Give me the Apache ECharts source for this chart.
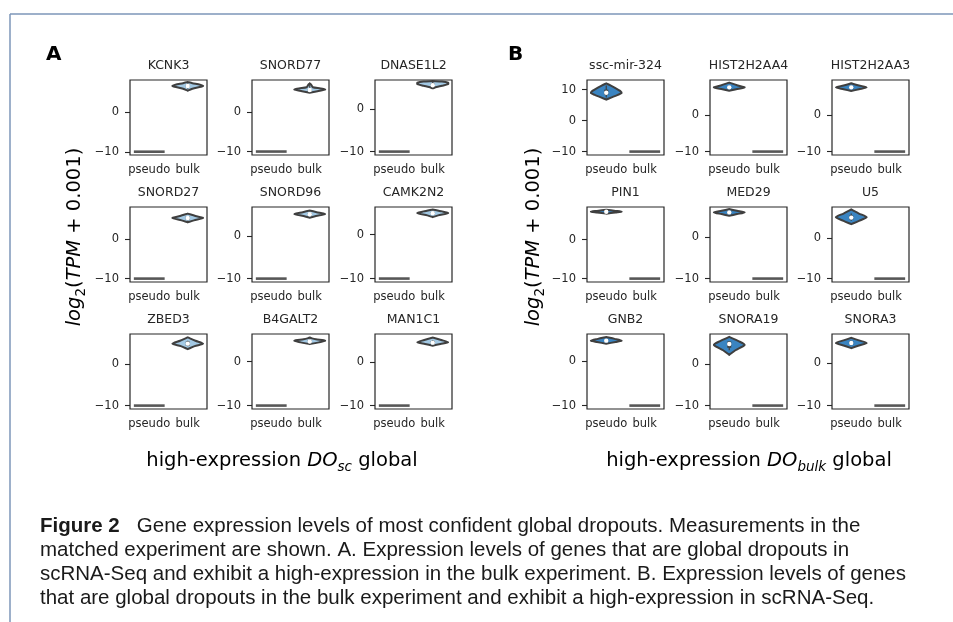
<!DOCTYPE html>
<html>
<head>
<meta charset="utf-8">
<script src="https://cdn.jsdelivr.net/npm/echarts@6/dist/echarts.min.js"></script>
<style>
html, body { margin: 0; padding: 0; background: #fff; }
#chart { width: 953px; height: 622px; }
</style>
</head>
<body>
<div id="chart"></div>
<script>
// x categories of every small panel
const groups = ['pseudo', 'bulk']
// log2(0 + 0.001), the value of every dropout
const dropoutValue = -9.97
const yTicks = [-10, 0, 10]

// A: dropouts in scRNA-Seq (pseudo), expressed in bulk
const genesA = ['KCNK3', 'SNORD77', 'DNASE1L2', 'SNORD27', 'SNORD96', 'CAMK2N2', 'ZBED3', 'B4GALT2', 'MAN1C1']
// B: dropouts in bulk, expressed in scRNA-Seq (pseudo)
const genesB = ['ssc-mir-324', 'HIST2H2AA4', 'HIST2H2AA3', 'PIN1', 'MED29', 'U5', 'GNB2', 'SNORA19', 'SNORA3']

// y range of each panel
const yRangeA = [[-10.8, 8.0], [-10.85, 8.25], [-10.77, 6.85], [-10.82, 7.95], [-10.76, 6.7], [-10.75, 6.3], [-10.78, 7.1], [-10.75, 6.3], [-10.76, 6.6]]
const yRangeB = [[-11.07, 13.1], [-10.9, 9.5], [-10.9, 9.5], [-10.84, 8.4], [-10.79, 7.2], [-10.8, 7.6], [-10.74, 6.2], [-10.79, 7.2], [-10.77, 6.8]]

// violin outline of the expressed group: [value, relative half width]
const violinA = [
  [[5.3, 0], [5.8, 0.3], [6.3, 0.85], [6.5, 1], [6.8, 0.8], [7.2, 0.3], [7.5, 0]],
  [[5.0, 0], [5.4, 0.5], [5.8, 1], [6.1, 0.7], [6.4, 0.2], [7.0, 0.1], [7.4, 0]],
  [[4.9, 0], [5.2, 0.25], [5.5, 0.6], [5.9, 1], [6.2, 1], [6.5, 0.6], [6.6, 0]],
  [[4.1, 0], [4.6, 0.4], [5.2, 1], [5.7, 0.5], [6.3, 0]],
  [[4.2, 0], [4.6, 0.4], [5.05, 1], [5.5, 0.45], [5.9, 0]],
  [[4.0, 0], [4.4, 0.35], [4.9, 1], [5.3, 0.6], [5.75, 0]],
  [[3.5, 0], [4.2, 0.45], [4.8, 1], [5.5, 0.5], [6.3, 0]],
  [[4.0, 0], [4.4, 0.6], [4.8, 1], [5.1, 0.4], [5.3, 0.15], [5.5, 0]],
  [[3.9, 0], [4.3, 0.5], [4.7, 1], [5.2, 0.55], [5.8, 0]]
]
const violinB = [
  [[6.8, 0], [7.5, 0.35], [8.3, 0.75], [8.9, 1], [9.6, 0.9], [10.5, 0.6], [11.3, 0.3], [12.0, 0]],
  [[6.6, 0], [7.0, 0.45], [7.5, 1], [8.0, 0.55], [8.8, 0]],
  [[6.5, 0], [7.0, 0.5], [7.5, 1], [8.0, 0.5], [8.6, 0]],
  [[6.7, 0], [7.0, 0.6], [7.2, 1], [7.4, 0.6], [7.7, 0]],
  [[5.1, 0], [5.5, 0.5], [5.9, 1], [6.3, 0.5], [6.7, 0]],
  [[3.4, 0], [4.2, 0.5], [5.1, 1], [6.0, 0.5], [7.0, 0]],
  [[4.0, 0], [4.4, 0.6], [4.7, 1], [5.1, 0.55], [5.5, 0]],
  [[2.2, 0], [3.3, 0.4], [4.6, 1], [5.5, 0.6], [6.5, 0]],
  [[3.5, 0], [4.1, 0.5], [4.7, 1], [5.3, 0.5], [5.9, 0]]
]
const medianA = [6.5, 5.7, 5.6, 5.2, 5.0, 4.9, 4.8, 4.6, 4.6]
const medianB = [9.0, 7.5, 7.5, 7.2, 5.9, 5.0, 4.7, 4.8, 4.7]
const quartA = [[6.2, 6.8], [5.4, 6.0], [5.2, 6.0], [4.8, 5.6], [4.7, 5.3], [4.6, 5.2], [4.3, 5.3], [4.4, 4.9], [4.3, 5.0]]
const quartB = [[8.3, 10.0], [7.2, 7.8], [7.2, 7.8], [7.0, 7.4], [5.5, 6.3], [4.5, 5.5], [4.5, 4.9], [3.9, 5.4], [4.4, 5.1]]

const ink = '#262626'
const edge = '#3f3f3f'
const colLeftA = [130, 252, 375]
const colLeftB = [587, 710, 832]
const rowTop = [80, 207, 334]
const boxW = 77
const boxH = 75

const panels = []
genesA.forEach((g, i) => panels.push({ gene: g, range: yRangeA[i], violin: violinA[i], median: medianA[i], quart: quartA[i], expr: 1, fill: '#a3c9e4', left: colLeftA[i % 3], top: rowTop[Math.floor(i / 3)] }))
genesB.forEach((g, i) => panels.push({ gene: g, range: yRangeB[i], violin: violinB[i], median: medianB[i], quart: quartB[i], expr: 0, fill: '#3a84c1', left: colLeftB[i % 3], top: rowTop[Math.floor(i / 3)] }))

const chart = echarts.init(document.getElementById('chart'), null, { renderer: 'canvas' })

const grids = []
const xAxes = []
const yAxes = []
const series = []
const graphics = []

function minusFmt(v) {
  return v < 0 ? '\u2212' + Math.abs(v) : String(v)
}

panels.forEach((p, k) => {
  const ticks = yTicks.filter(t => t >= p.range[0] && t <= p.range[1])
  grids.push({ left: p.left, top: p.top, width: boxW, height: boxH, show: true, borderColor: ink, borderWidth: 1.2, outerBoundsMode: 'none' })
  xAxes.push({
    gridIndex: k, type: 'category', data: groups, boundaryGap: true,
    axisLine: { show: false },
    axisTick: { alignWithLabel: true, length: 5, lineStyle: { color: ink, width: 1.1 } },
    axisLabel: { interval: 0, margin: 9, fontSize: 11.5, color: ink, fontFamily: 'DejaVu Sans' },
    splitLine: { show: false }
  })
  yAxes.push({
    gridIndex: k, type: 'value', min: p.range[0], max: p.range[1],
    axisLine: { show: false },
    splitLine: { show: false },
    axisTick: { show: true, length: 5, customValues: ticks, lineStyle: { color: ink, width: 1.1 } },
    axisLabel: { customValues: ticks, margin: 11, fontSize: 11.5, color: ink, fontFamily: 'DejaVu Sans', formatter: minusFmt }
  })
  series.push({
    type: 'custom',
    xAxisIndex: k,
    yAxisIndex: k,
    silent: true,
    data: [[1 - p.expr, dropoutValue], [p.expr, p.median]],
    renderItem: (params, api) => {
      const cat = api.value(0)
      const half = api.size([1, 0])[0] * 0.4
      if (params.dataIndex === 0) {
        const c = api.coord([cat, api.value(1)])
        return {
          type: 'line',
          shape: { x1: c[0] - half, y1: c[1], x2: c[0] + half, y2: c[1] },
          style: { stroke: '#575757', lineWidth: 2.6 }
        }
      }
      const prof = p.violin
      const leftSide = prof.map(([v, w]) => { const c = api.coord([cat, v]); return [c[0] - w * half, c[1]] })
      const rightSide = prof.slice().reverse().map(([v, w]) => { const c = api.coord([cat, v]); return [c[0] + w * half, c[1]] })
      const lo = api.coord([cat, prof[1][0]])
      const hi = api.coord([cat, prof[prof.length - 2][0]])
      const q1 = api.coord([cat, p.quart[0]])
      const q3 = api.coord([cat, p.quart[1]])
      const med = api.coord([cat, p.median])
      return {
        type: 'group',
        children: [
          { type: 'polygon', shape: { points: leftSide.concat(rightSide), smooth: 0.25 }, style: { fill: p.fill, stroke: edge, lineWidth: 2 } },
          { type: 'line', shape: { x1: lo[0], y1: lo[1], x2: hi[0], y2: hi[1] }, style: { stroke: edge, lineWidth: 1.2 } },
          { type: 'rect', shape: { x: q1[0] - 2, y: q3[1], width: 4, height: Math.max(q1[1] - q3[1], 1) }, style: { fill: edge } },
          { type: 'circle', shape: { cx: med[0], cy: med[1], r: 2.2 }, style: { fill: '#ffffff' } }
        ]
      }
    }
  })
  graphics.push({
    type: 'text', x: p.left + boxW / 2, y: p.top - 14, silent: true,
    style: { text: p.gene, fontSize: 12.5, fontFamily: 'DejaVu Sans', fill: ink, align: 'center', verticalAlign: 'middle' }
  })
})

const mathRich = {
  n: { fontSize: 19.5, fontFamily: 'DejaVu Sans', color: ink, lineHeight: 26 },
  i: { fontSize: 19.5, fontFamily: 'DejaVu Sans', fontStyle: 'italic', color: ink, lineHeight: 26 },
  s: { fontSize: 13.5, fontFamily: 'DejaVu Sans', color: ink, lineHeight: 15, verticalAlign: 'bottom' },
  si: { fontSize: 13.5, fontFamily: 'DejaVu Sans', fontStyle: 'italic', color: ink, lineHeight: 15, verticalAlign: 'bottom' }
}

// y axis titles
;[75, 534].forEach(x => {
  graphics.push({
    type: 'text', x: x, y: 237, rotation: Math.PI / 2, silent: true,
    style: { text: '{i|log}{s|2}{n|(}{i|TPM}{n| + 0.001)}', rich: mathRich, align: 'center', verticalAlign: 'middle' }
  })
})
// x axis titles
graphics.push({
  type: 'text', x: 282, y: 461, silent: true,
  style: { text: '{n|high-expression }{i|DO}{si|sc}{n| global}', rich: mathRich, align: 'center', verticalAlign: 'middle' }
})
graphics.push({
  type: 'text', x: 749, y: 461, silent: true,
  style: { text: '{n|high-expression }{i|DO}{si|bulk}{n| global}', rich: mathRich, align: 'center', verticalAlign: 'middle' }
})
// panel letters
;[['A', 46], ['B', 508]].forEach(([t, x]) => {
  graphics.push({
    type: 'text', x: x, y: 55, silent: true,
    style: { text: t, font: 'bold 20px "DejaVu Sans"', fill: '#000', align: 'left', verticalAlign: 'middle' }
  })
})
// page frame
graphics.push({ type: 'line', silent: true, shape: { x1: 10, y1: 14, x2: 953, y2: 14 }, style: { stroke: '#7d96b8', lineWidth: 1.5 } })
graphics.push({ type: 'line', silent: true, shape: { x1: 10, y1: 14, x2: 10, y2: 622 }, style: { stroke: '#7d96b8', lineWidth: 1.5 } })

// caption
const captionLines = [
  '{b|Figure 2}   Gene expression levels of most confident global dropouts. Measurements in the',
  'matched experiment are shown. A. Expression levels of genes that are global dropouts in',
  'scRNA-Seq and exhibit a high-expression in the bulk experiment. B. Expression levels of genes',
  'that are global dropouts in the bulk experiment and exhibit a high-expression in scRNA-Seq.'
]
captionLines.forEach((line, i) => {
  graphics.push({
    type: 'text', x: 40, y: 526 + i * 24, silent: true,
    style: {
      text: line, fontSize: 20.5, fontFamily: '"Liberation Sans"', fill: '#1a1a1a', align: 'left', verticalAlign: 'middle',
      rich: { b: { fontSize: 20.5, fontWeight: 'bold', fontFamily: '"Liberation Sans"', color: '#1a1a1a' } }
    }
  })
})

chart.setOption({
  animation: false,
  backgroundColor: '#ffffff',
  grid: grids,
  xAxis: xAxes,
  yAxis: yAxes,
  series: series,
  graphic: graphics
})
</script>
</body>
</html>
